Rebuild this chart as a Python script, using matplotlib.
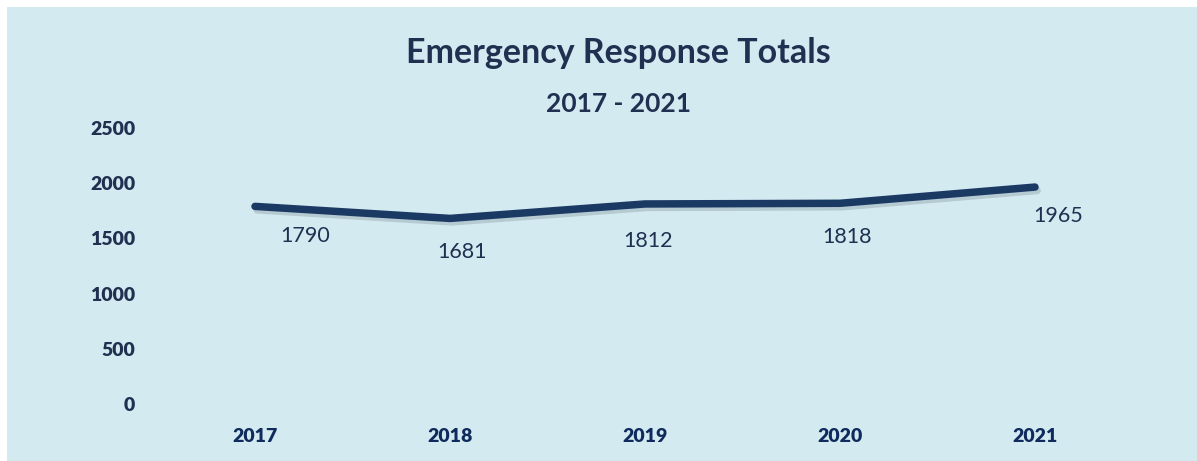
import numpy as np
import matplotlib
matplotlib.use("Agg")
import matplotlib.pyplot as plt
import matplotlib.patheffects as pe
from matplotlib.patches import Rectangle

## Data
years = ['2017', '2018', '2019', '2020', '2021']
totals = [1790, 1681, 1812, 1818, 1965]
yticks = [0, 500, 1000, 1500, 2000, 2500]

## Options
bg = '#d4eaf1'
navy = '#1b3a63'
textcol = '#1f3050'
plt.rcParams['font.family'] = ['Lato', 'DejaVu Sans']

fig = plt.figure(figsize=(11.97, 4.61), dpi=100)
fig.patch.set_facecolor('white')
# light blue panel, white strip on the top and left
fig.patches.append(Rectangle((7/1197, 0), 1 - 7/1197, 1 - 7/461, transform=fig.transFigure,
                             facecolor=bg, edgecolor='none', zorder=0))

ax = fig.add_axes([157.5/1197, 57/461, 975/1197, 276/461])
ax.set_zorder(2)
ax.set_facecolor('none')
x = np.arange(len(years))
ax.plot(x, totals, color=navy, lw=5.4, solid_capstyle='round', solid_joinstyle='round',
        path_effects=[pe.SimpleLineShadow(offset=(1.5, -2.5), shadow_color='#8a9aa5', alpha=0.4),
                      pe.Normal()])

# data labels (offsets in points)
label_dx = [36, 9, 2, 5, 17]
label_dy = [-21, -24, -27, -24, -21]
for i, v in enumerate(totals):
    ax.annotate(str(v), (x[i], v), xytext=(label_dx[i], label_dy[i]), textcoords='offset points',
                ha='center', va='center', fontsize=15.5, color=textcol)

ax.set_xlim(-0.5, len(years) - 0.5)
ax.set_ylim(0, 2500)
ax.set_xticks(x)
ax.set_xticklabels(years, fontsize=14, fontweight='heavy', color='#0f2a5c')
ax.set_yticks(yticks)
ax.set_yticklabels([str(t) for t in yticks], fontsize=14, fontweight='heavy', color=textcol)
ax.tick_params(axis='both', length=0)
ax.tick_params(axis='y', pad=16)
ax.tick_params(axis='x', pad=17)
for s in ax.spines.values():
    s.set_visible(False)

fig.text(618/1197, 1 - 53/461, 'Emergency Response Totals', ha='center', va='center',
         fontsize=24.5, fontweight='bold', color=textcol)
fig.text(618/1197, 1 - 104/461, '2017 - 2021', ha='center', va='center',
         fontsize=19, fontweight='bold', color=textcol)

fig.savefig('out.png', dpi=100, facecolor=fig.get_facecolor())
